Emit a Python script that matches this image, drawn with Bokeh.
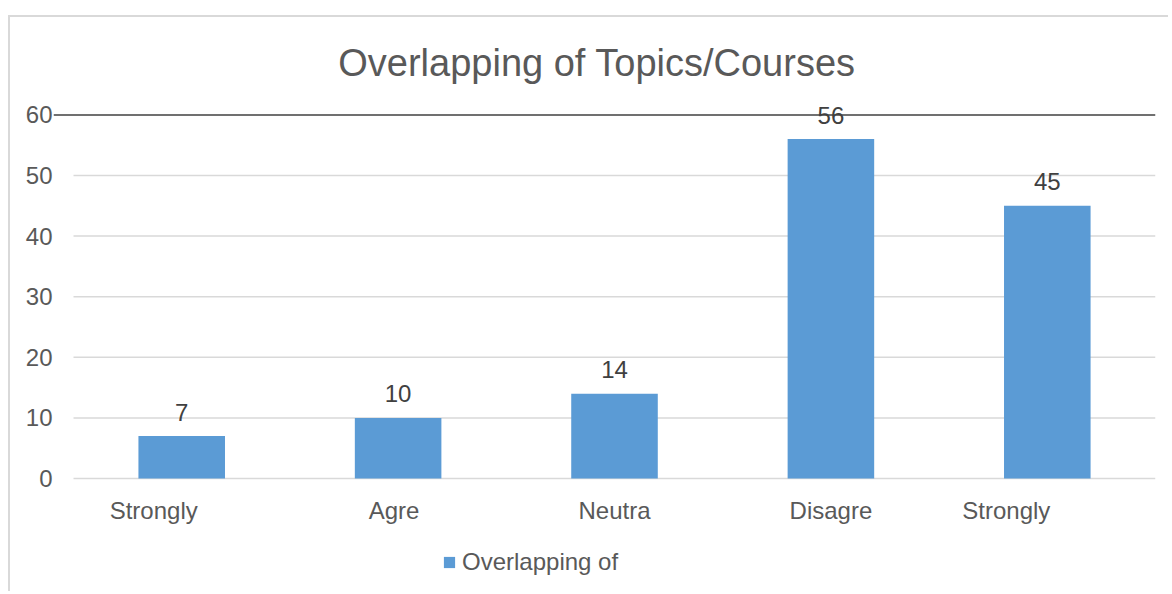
from bokeh.plotting import figure
from bokeh.models import (ColumnDataSource, Range1d, FixedTicker, Label, Legend, LegendItem)
from bokeh.core.properties import value
from bokeh.embed import file_html
from bokeh.resources import INLINE

# ---- data ----
categories = ["Strongly", "Agre", "Neutra", "Disagre", "Strongly"]
counts = [7, 10, 14, 56, 45]
y_ticks = [0, 10, 20, 30, 40, 50, 60]
title_text = "Overlapping of Topics/Courses"
series_name = "Overlapping of"

# ---- style ----
FONT = "Liberation Sans"
BAR = "#5B9BD5"
TXT = "#595959"
LBL = "#404040"
GRID = "#D9D9D9"
label_nudge = [-28, -4, 0, 0, -41]  # px shifts of wrapped category labels

idx = list(range(len(categories)))
src = ColumnDataSource(dict(x=idx, top=counts, cat=categories,
                            lab=[str(v) for v in counts], dx=label_nudge))

p = figure(width=1160, height=576, output_backend="svg", toolbar_location=None,
           x_range=Range1d(-0.5925, 4.5), y_range=Range1d(-18.98, 76.07),
           x_axis_location=None, min_border_left=43, min_border_right=15,
           min_border_top=0, min_border_bottom=0,
           styles={"margin-top": "15px", "margin-left": "8px",
                   "border-left": "2px solid #D9D9D9",
                   "border-top": "2px solid #D9D9D9"})
p.outline_line_color = None
p.xgrid.visible = False
p.ygrid.visible = False
p.background_fill_color = "white"
p.border_fill_color = "white"

# gridlines
grid_y = y_ticks[:-1]
p.segment(x0=-0.5, x1=4.5, y0=grid_y, y1=grid_y, line_color=GRID, line_width=1.5)
p.segment(x0=-0.5925, x1=4.5, y0=y_ticks[-1], y1=y_ticks[-1], line_color="#404040", line_width=1.5)

bars = p.vbar(x="x", top="top", width=0.4, source=src, fill_color=BAR, line_color=None)

p.text(x="x", y="top", text="lab", source=src, y_offset=-24,
       text_align="center", text_baseline="middle",
       text_font=value(FONT), text_font_size="24px", text_color=LBL)

p.text(x="x", y=-5.28, text="cat", source=src, x_offset="dx",
       text_align="center", text_baseline="middle",
       text_font=value(FONT), text_font_size="24px", text_color=TXT)

p.add_layout(Label(x=1.919, y=68.6, text=title_text, text_align="center",
                   text_baseline="middle", text_font=FONT, text_font_size="38px",
                   text_color=TXT))

ax = p.yaxis[0]
ax.ticker = FixedTicker(ticks=y_ticks)
ax.axis_line_color = None
ax.major_tick_line_color = None
ax.minor_tick_line_color = None
ax.major_tick_out = 0
ax.major_tick_in = 0
ax.minor_tick_out = 0
ax.major_label_standoff = 1
ax.major_label_text_font = FONT
ax.major_label_text_font_size = "24px"
ax.major_label_text_color = TXT

legend = Legend(items=[LegendItem(label=series_name, renderers=[bars])],
                location=(389, 17), padding=0, margin=0, spacing=0,
                glyph_width=14, glyph_height=14, label_standoff=6,
                label_text_font=FONT, label_text_font_size="24px",
                label_text_color=TXT, border_line_color=None,
                background_fill_alpha=0)
p.add_layout(legend)

open("out.html", "w").write(file_html(p, INLINE))
